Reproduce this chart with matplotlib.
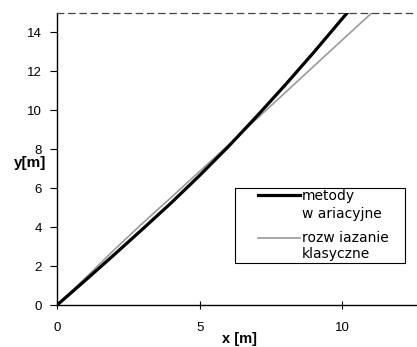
import matplotlib
matplotlib.use("Agg")
import matplotlib.pyplot as plt
from matplotlib.patches import Rectangle

plt.rcParams["font.family"] = ["Liberation Sans", "DejaVu Sans"]

# curves
x_war = [0, 1, 2, 3, 4, 5, 6, 7, 8, 9, 10, 10.3]
y_war = [0, 1.28, 2.58, 3.9, 5.24, 6.65, 8.12, 9.68, 11.29, 12.96, 14.69, 15.2]
x_kl = [0, 1, 2, 3, 4, 5, 6, 7, 8, 9, 10, 11.1]
y_kl = [0, 1.4, 2.83, 4.2, 5.52, 6.86, 8.2, 9.55, 10.9, 12.25, 13.6, 15.07]

legend_labels = ["metody", "w ariacyjne", "rozw iazanie", "klasyczne"]

fig = plt.figure(figsize=(4.17, 3.47), dpi=100)
ax = fig.add_axes([0.137, 0.121, 0.863, 0.842])

ax.plot(x_kl, y_kl, color="#9a9a9a", lw=1.2)
ax.plot(x_war, y_war, color="black", lw=2.3)

ax.set_xlim(0, 12.63)
ax.set_ylim(0, 15)
ax.set_xticks([0, 5, 10])
ax.set_yticks([0, 2, 4, 6, 8, 10, 12, 14])

ax.spines["right"].set_visible(False)
ax.spines["top"].set_linestyle((0, (5, 4)))
ax.spines["top"].set_color("#444444")
ax.spines["top"].set_linewidth(0.9)
ax.spines["left"].set_linewidth(1.0)
ax.spines["bottom"].set_linewidth(1.0)

ax.tick_params(axis="y", direction="out", length=5, width=0.8, pad=6, labelsize=9.5)
ax.tick_params(axis="x", direction="inout", length=6, width=0.8, pad=9, labelsize=9.5)

ax.set_xlabel("x [m]", fontsize=10.5, fontweight="bold")
ax.xaxis.set_label_coords(0.508, -0.092)
ax.set_ylabel("y[m]", fontsize=11, fontweight="bold", rotation=0, va="center", ha="center")
ax.yaxis.set_label_coords(-0.075, 0.485)

# legend box drawn by hand
ax.add_patch(Rectangle((0.494, 0.144), 0.473, 0.256, transform=ax.transAxes,
                       facecolor="white", edgecolor="black", lw=0.8, zorder=5))
ax.plot([0.558, 0.675], [0.376, 0.376], transform=ax.transAxes, color="black", lw=2.3, zorder=6)
ax.plot([0.558, 0.675], [0.228, 0.228], transform=ax.transAxes, color="#9a9a9a", lw=1.2, zorder=6)
for lab, yy in zip(legend_labels, [0.372, 0.312, 0.228, 0.176]):
    ax.text(0.681, yy, lab, transform=ax.transAxes, fontsize=10, va="center",
            ha="left", family="DejaVu Sans", zorder=6)

fig.savefig("out.png", dpi=100)
